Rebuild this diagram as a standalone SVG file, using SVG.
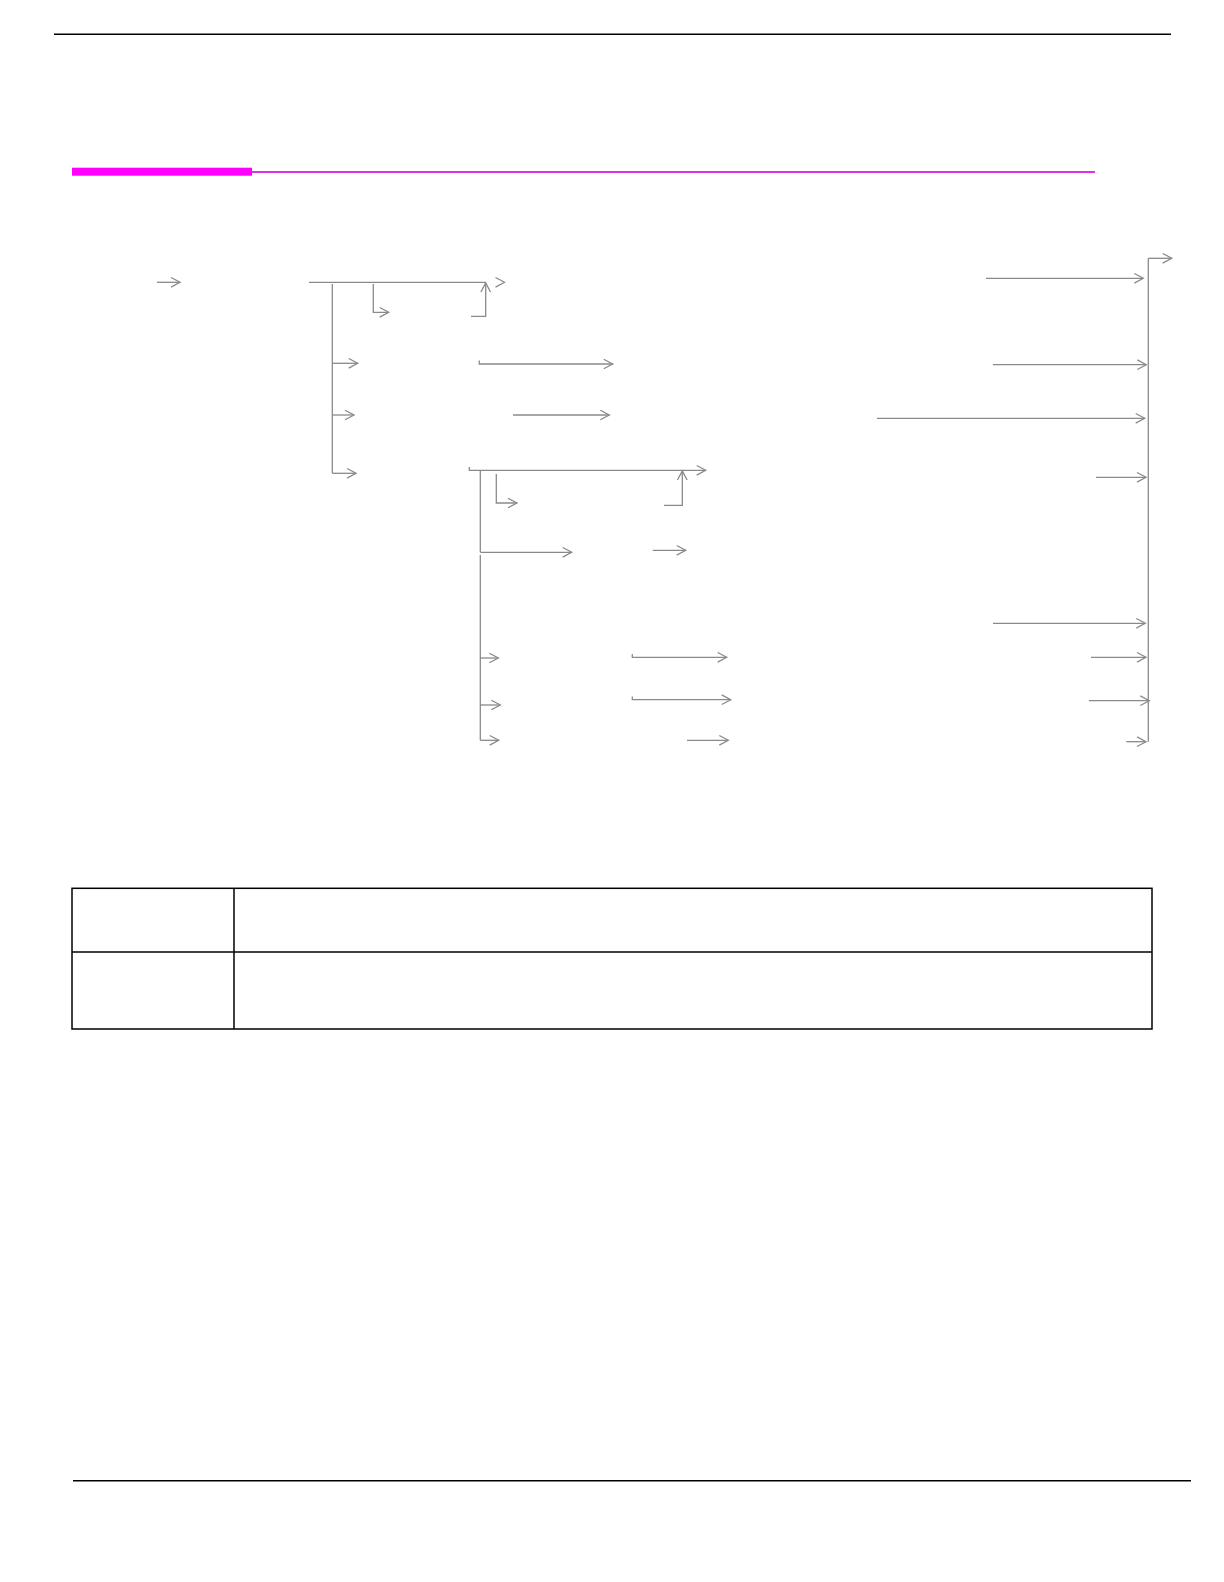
<svg xmlns="http://www.w3.org/2000/svg" width="1224" height="1582" viewBox="0 0 1224 1582">
<style>
.c{fill:none;stroke:#8a8a8a;stroke-width:1.3}
.a{marker-end:url(#arr)}
.k{stroke:#000;stroke-width:1.5;fill:none}
</style>
<defs>
<marker id="arr" markerUnits="userSpaceOnUse" markerWidth="14" markerHeight="14" refX="10" refY="6" orient="auto">
<path d="M1,1.2 L10,6 L1,10.8" fill="none" stroke="#8a8a8a" stroke-width="1.3"/>
</marker>
</defs>
<rect width="1224" height="1582" fill="#fff"/>
<g id="header">
<line class="k" x1="54" y1="34.3" x2="1171" y2="34.3"/>
<rect x="72" y="167.7" width="180" height="8" fill="#ff00ff"/>
<line x1="252" y1="172" x2="1095" y2="172" stroke="#e030e0" stroke-width="2"/>
</g>
<g id="connectors">
<path class="c a" d="M157,282.3 H180"/>
<path class="c" d="M309,282.3 H486"/>
<path class="c" d="M495.5,277.5 L504.5,282.3 L495.5,287.1"/>
<path class="c" d="M332.3,284 V473.3"/>
<path class="c a" d="M332.3,363.3 H357.7"/>
<path class="c a" d="M332.3,415 H354"/>
<path class="c a" d="M332.3,473.3 H356"/>
<path class="c a" d="M373.3,284 V312.3 H388.7"/>
<path class="c a" d="M471,316.3 H485.7 V283"/>
<path class="c a" d="M479.3,360.5 V364 H612.7"/>
<path class="c a" d="M513,415 H609.3"/>
<path class="c a" d="M469.3,467 V470.3 H705.7"/>
<path class="c" d="M480.3,470.3 V552.3"/>
<path class="c" d="M480.3,555 V740.3"/>
<path class="c a" d="M496.3,474 V503 H517"/>
<path class="c a" d="M664,505.3 H682.3 V471"/>
<path class="c a" d="M480.3,552.3 H571.7"/>
<path class="c a" d="M652.7,550.3 H685.7"/>
<path class="c a" d="M480.3,658 H498.3"/>
<path class="c a" d="M480.3,705 H500.3"/>
<path class="c a" d="M480.3,740.3 H498.7"/>
<path class="c a" d="M632.3,654 V657.3 H726.7"/>
<path class="c a" d="M632.3,696.5 V699.7 H730.7"/>
<path class="c a" d="M687,740.3 H728.3"/>
<path class="c" d="M1148.3,741.7 V258.3"/>
<path class="c a" d="M1148.3,258.3 H1171.7"/>
<path class="c a" d="M986,278.3 H1143.3"/>
<path class="c a" d="M993,364.7 H1146.3"/>
<path class="c a" d="M877,418.3 H1144.7"/>
<path class="c a" d="M1096,477.3 H1146"/>
<path class="c a" d="M993,623.3 H1145.3"/>
<path class="c a" d="M1091,657.3 H1146"/>
<path class="c a" d="M1089,700.7 H1149.3"/>
<path class="c a" d="M1126.3,741.7 H1146"/>
</g>
<g id="table">
<rect class="k" x="72" y="888.3" width="1080" height="140.7"/>
<line class="k" x1="72" y1="952" x2="1152" y2="952"/>
<line class="k" x1="234" y1="888.3" x2="234" y2="1029"/>
</g>
<g id="footer">
<line class="k" x1="73" y1="1480.7" x2="1191" y2="1480.7"/>
</g>
</svg>
